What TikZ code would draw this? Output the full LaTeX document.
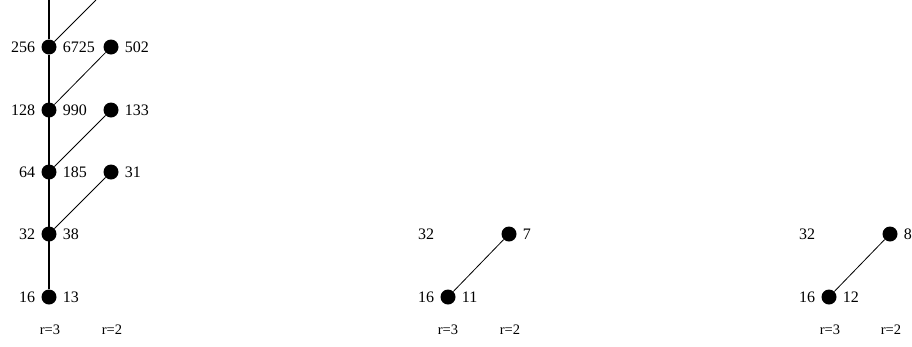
\documentclass[tikz,border=0pt]{standalone}
\usepackage{fontspec}
\setmainfont{Liberation Serif}
\usetikzlibrary{positioning}

\tikzset{
  knot/.style={circle, fill=black, inner sep=0pt, minimum size=15pt},
  ghost/.style={inner sep=0pt, minimum size=15pt},
  every label/.style={font=\fontsize{16}{18}\selectfont, inner sep=1pt},
  stem/.style={line width=1.2pt},
  twig/.style={line width=0.8pt},
  rlab/.style={font=\fontsize{14.5}{16}\selectfont},
}

\begin{document}
\begin{tikzpicture}[x=1pt, y=-1pt, label distance=5pt]
    \useasboundingbox (0,0) rectangle (912,346);

    % first tree: r=3 column
    \foreach \nm/\y/\lo/\hi in {a/297/16/13, b/234/32/38, c/172/64/185, d/110/128/990, e/47/256/6725}
        \node[knot, label=left:\lo, label=right:\hi] (\nm) at (49,\y) {};
    % r=2 column
    \foreach \nm/\y/\hi in {f/172/31, g/110/133, h/47/502}
        \node[knot, label=right:\hi] (\nm) at (111,\y) {};
    \coordinate (top) at (49,0);
    \coordinate (out) at (96,0);

    \draw[stem] (a) -- (e) -- (top);
    \draw[twig] (b) -- (f);
    \draw[twig] (c) -- (g);
    \draw[twig] (d) -- (h);
    \draw[twig] (e) -- (out);

    \node[rlab] (ra) at (50,330) {r=3};
    \node[rlab] (rb) at (112,330) {r=2};

    % second tree
    \node[ghost, label=left:32] (m32) at (448,234) {};
    \node[knot, label=left:16, label=right:11] (m16) at (448,297) {};
    \node[knot, label=right:7] (m7) at (509,234) {};
    \draw[twig] (m16) -- (m7);
    \node[rlab] (rc) at (448,330) {r=3};
    \node[rlab] (rd) at (510,330) {r=2};

    % third tree
    \node[ghost, label=left:32] (n32) at (829,234) {};
    \node[knot, label=left:16, label=right:12] (n16) at (829,297) {};
    \node[knot, label=right:8] (n8) at (890,234) {};
    \draw[twig] (n16) -- (n8);
    \node[rlab] (re) at (830,330) {r=3};
    \node[rlab] (rf) at (891,330) {r=2};
\end{tikzpicture}
\end{document}
